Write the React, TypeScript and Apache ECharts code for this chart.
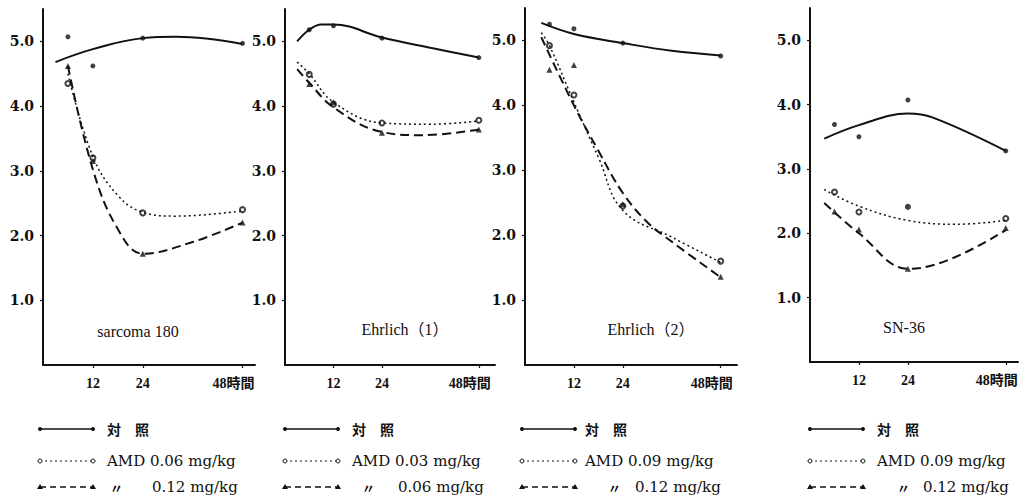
import React, { useEffect, useRef } from "react";
import * as echarts from "echarts";

// ---- data ----
const hours = [6, 12, 24, 48];
const xTickValues = [12, 24, 48];
const yTickValues = [1, 2, 3, 4, 5];
const panelTitles = ["sarcoma 180", "Ehrlich（1）", "Ehrlich（2）", "SN-36"];
const ctrlLabel = "対　照";
const lowDoses = ["0.06", "0.03", "0.09", "0.09"];
const highDoses = ["0.12", "0.06", "0.12", "0.12"];

// panel 1: sarcoma 180
const p1Ctrl = [5.07, 4.62, 5.05, 4.97];
const p1Low = [4.35, 3.2, 2.35, 2.4];
const p1High = [4.62, 3.15, 1.72, 2.2];
const p1CtrlFit = [[3, 4.68], [12, 4.88], [24, 5.05], [32, 5.07], [48, 4.96]];
const p1LowFit = [[6, 4.5], [12, 3.22], [18, 2.62], [24, 2.36], [32, 2.3], [48, 2.38]];
const p1HighFit = [[6, 4.62], [12, 3.02], [18, 2.1], [24, 1.72], [36, 1.9], [48, 2.2]];

// panel 2: Ehrlich (1)
const p2Ctrl = [5.18, 5.24, 5.05, 4.75];
const p2Low = [4.49, 4.03, 3.74, 3.78];
const p2High = [4.34, 4.06, 3.59, 3.64];
const p2CtrlFit = [[3, 5.0], [6, 5.18], [9, 5.26], [12, 5.26], [24, 5.06], [36, 4.9], [48, 4.75]];
const p2LowFit = [[3, 4.68], [6, 4.5], [12, 4.06], [24, 3.74], [36, 3.72], [48, 3.77]];
const p2HighFit = [[3, 4.57], [6, 4.36], [12, 3.98], [24, 3.6], [34, 3.55], [48, 3.64]];

// panel 3: Ehrlich (2)
const p3Ctrl = [5.25, 5.18, 4.96, 4.76];
const p3Low = [4.92, 4.16, 2.45, 1.6];
const p3High = [4.55, 4.62, 2.48, 1.36];
const p3CtrlFit = [[4, 5.27], [12, 5.1], [24, 4.96], [36, 4.84], [48, 4.77]];
const p3LowFit = [[4, 5.12], [6, 4.92], [12, 4.05], [18, 3.2], [24, 2.38], [36, 1.97], [48, 1.58]];
const p3HighFit = [[4, 5.05], [12, 4.0], [18, 3.3], [24, 2.65], [30, 2.2], [36, 1.9], [48, 1.35]];

// panel 4: SN-36
const p4Ctrl = [3.69, 3.5, 4.07, 3.28];
const p4Low = [2.64, 2.33, 2.41, 2.23];
const p4High = [2.34, 2.06, 1.45, 2.08];
const p4CtrlFit = [[3.5, 3.47], [12, 3.68], [24, 3.86], [30, 3.8], [48, 3.28]];
const p4LowFit = [[3.5, 2.68], [12, 2.42], [24, 2.2], [36, 2.14], [48, 2.2]];
const p4HighFit = [[3.5, 2.47], [12, 2.0], [24, 1.45], [27, 1.46], [48, 2.05]];

const panelData = [
  { ctrl: p1Ctrl, low: p1Low, high: p1High, ctrlFit: p1CtrlFit, lowFit: p1LowFit, highFit: p1HighFit },
  { ctrl: p2Ctrl, low: p2Low, high: p2High, ctrlFit: p2CtrlFit, lowFit: p2LowFit, highFit: p2HighFit },
  { ctrl: p3Ctrl, low: p3Low, high: p3High, ctrlFit: p3CtrlFit, lowFit: p3LowFit, highFit: p3HighFit },
  { ctrl: p4Ctrl, low: p4Low, high: p4High, ctrlFit: p4CtrlFit, lowFit: p4LowFit, highFit: p4HighFit },
];

// ---- layout ----
const grids = [
  { left: 43, top: 9, width: 212, height: 356, xmax: 51 },
  { left: 285, top: 9, width: 210, height: 356, xmax: 52 },
  { left: 525, top: 8, width: 212, height: 357, xmax: 52 },
  { left: 810, top: 8, width: 208, height: 354, xmax: 51 },
];
const legendX = [40, 285, 522, 810];
const legendTextX = [107, 352, 585, 877];
const dittoX = [110, 362, 608, 897];
const highTextX = [152, 398, 635, 923];
const titlePos = [[138, 331], [405, 329], [651, 329], [904, 327]];
const rowY = [429, 461, 487];

const INK = "#111";

function legendRow(x0: number, y: number, kind: number) {
  const children: any[] = [];
  const dash = kind === 0 ? null : kind === 1 ? [2, 3] : [6, 4];
  children.push({
    type: "line",
    shape: { x1: x0, y1: y, x2: x0 + 53, y2: y },
    style: { stroke: INK, lineWidth: kind === 1 ? 1.2 : 1.5, lineDash: dash },
  });
  [x0, x0 + 53].forEach((cx) => {
    if (kind === 0) {
      children.push({ type: "circle", shape: { cx, cy: y, r: 2 }, style: { fill: INK } });
    } else if (kind === 1) {
      children.push({ type: "circle", shape: { cx, cy: y, r: 2 }, style: { fill: "#fff", stroke: INK, lineWidth: 1 } });
    } else {
      children.push({
        type: "polygon",
        shape: { points: [[cx - 3, y + 2], [cx + 3, y + 2], [cx, y - 3]] },
        style: { fill: INK },
      });
    }
  });
  return children;
}

export default function App() {
  const ref = useRef<HTMLDivElement>(null);
  useEffect(() => {
    if (!ref.current) return;
    const chart = echarts.init(ref.current, undefined, { renderer: "svg" });

    const grid = grids.map((g) => ({ left: g.left, top: g.top, width: g.width, height: g.height }));
    const xAxis = grids.map((g, i) => ({
      type: "value",
      gridIndex: i,
      min: 0,
      max: g.xmax,
      splitLine: { show: false },
      axisLine: { show: true, lineStyle: { color: INK, width: 2 } },
      axisTick: { show: true, customValues: xTickValues, length: 3, lineStyle: { color: INK, width: 1.2 } },
      axisLabel: {
        customValues: xTickValues,
        margin: 11,
        color: INK,
        fontFamily: '"Liberation Serif", "Noto Sans CJK JP", serif',
        fontWeight: "bold",
        fontSize: 14,
        formatter: (v: number) => (v === 48 ? "{a|48時間}" : String(v)),
        rich: {
          a: {
            padding: [0, 18, 0, 0],
            color: INK,
            fontFamily: '"Liberation Serif", "Noto Sans CJK JP", serif',
            fontWeight: "bold",
            fontSize: 14,
          },
        },
      },
    }));
    const yAxis = grids.map((g, i) => ({
      type: "value",
      gridIndex: i,
      min: 0,
      max: 5.5,
      splitLine: { show: false },
      axisLine: { show: true, lineStyle: { color: INK, width: 2 } },
      axisTick: { show: true, customValues: yTickValues, length: 3, lineStyle: { color: INK, width: 1.2 } },
      axisLabel: {
        customValues: yTickValues,
        margin: 9,
        color: INK,
        fontFamily: '"DejaVu Serif", serif',
        fontWeight: "bold",
        fontSize: 14,
        formatter: (v: number) => v.toFixed(1),
      },
    }));

    const series: any[] = [];
    panelData.forEach((p, i) => {
      const common = { xAxisIndex: i, yAxisIndex: i, silent: true };
      series.push({
        ...common,
        type: "line",
        data: p.ctrlFit,
        smooth: 0.4,
        symbol: "none",
        lineStyle: { color: INK, width: 2, type: "solid" },
      });
      series.push({
        ...common,
        type: "line",
        data: p.lowFit,
        smooth: 0.4,
        symbol: "none",
        lineStyle: { color: INK, width: 1.5, type: [2, 3] },
      });
      series.push({
        ...common,
        type: "line",
        data: p.highFit,
        smooth: 0.4,
        symbol: "none",
        lineStyle: { color: INK, width: 2, type: [9, 5] },
      });
      series.push({
        ...common,
        type: "scatter",
        data: hours.map((h, k) => [h, p.ctrl[k]]),
        symbol: "circle",
        symbolSize: 5,
        itemStyle: { color: INK },
      });
      series.push({
        ...common,
        type: "scatter",
        data: hours.map((h, k) =>
          i === 3 && h === 24
            ? { value: [h, p.low[k]], symbol: "circle", symbolSize: 6, itemStyle: { color: INK } }
            : [h, p.low[k]]
        ),
        symbol: "emptyCircle",
        symbolSize: 5,
        itemStyle: { color: INK, borderWidth: 1 },
      });
      series.push({
        ...common,
        type: "scatter",
        data: hours.map((h, k) => [h, p.high[k]]),
        symbol: "triangle",
        symbolSize: 6,
        itemStyle: { color: INK },
      });
    });

    const graphic: any[] = [];
    const serifFont = '"DejaVu Serif", "Noto Sans CJK JP", serif';
    panelTitles.forEach((t, i) => {
      graphic.push({
        type: "text",
        style: {
          text: t,
          x: titlePos[i][0],
          y: titlePos[i][1],
          fill: INK,
          font: '16px "Liberation Serif", "Noto Sans CJK JP", serif',
          textAlign: "center",
          textVerticalAlign: "middle",
        },
      });
    });
    for (let i = 0; i < 4; i++) {
      const x0 = legendX[i];
      legendRow(x0, rowY[0], 0).forEach((c) => graphic.push(c));
      legendRow(x0, rowY[1], 1).forEach((c) => graphic.push(c));
      legendRow(x0, rowY[2], 2).forEach((c) => graphic.push(c));
      graphic.push({
        type: "text",
        style: {
          text: ctrlLabel,
          x: legendTextX[i],
          y: rowY[0],
          fill: INK,
          font: 'bold 14px "Noto Sans CJK JP", sans-serif',
          textAlign: "left",
          textVerticalAlign: "middle",
        },
      });
      graphic.push({
        type: "text",
        style: {
          text: "AMD " + lowDoses[i] + " mg/kg",
          x: legendTextX[i],
          y: rowY[1],
          fill: INK,
          font: "15px " + serifFont,
          textAlign: "left",
          textVerticalAlign: "middle",
        },
      });
      graphic.push({
        type: "text",
        style: {
          text: "〃",
          x: dittoX[i],
          y: rowY[2],
          fill: INK,
          font: 'bold 13px "Noto Sans CJK JP", sans-serif',
          textAlign: "left",
          textVerticalAlign: "middle",
        },
      });
      graphic.push({
        type: "text",
        style: {
          text: highDoses[i] + " mg/kg",
          x: highTextX[i],
          y: rowY[2],
          fill: INK,
          font: "15px " + serifFont,
          textAlign: "left",
          textVerticalAlign: "middle",
        },
      });
    }

    chart.setOption({
      animation: false,
      backgroundColor: "#fff",
      grid,
      xAxis,
      yAxis,
      series,
      graphic,
    });
    return () => chart.dispose();
  }, []);

  return (
    <div
      ref={ref}
      style={{ position: "fixed", left: 0, top: 0, width: 1026, height: 501, background: "#fff" }}
    />
  );
}
